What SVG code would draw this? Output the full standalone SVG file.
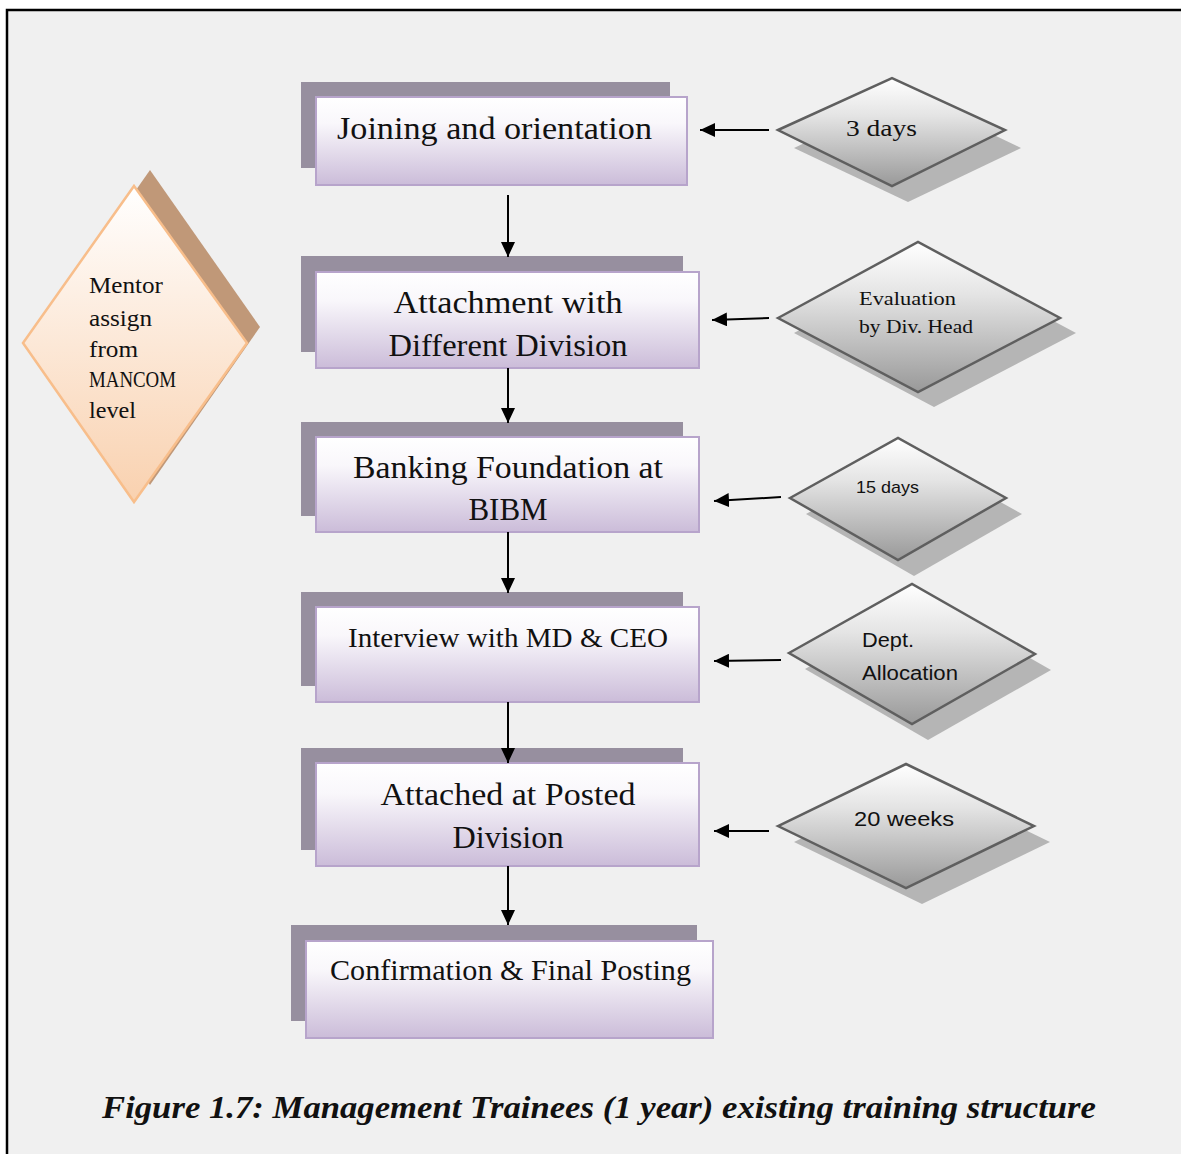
<svg xmlns="http://www.w3.org/2000/svg" width="1181" height="1154" viewBox="0 0 1181 1154">
  <defs>
    <linearGradient id="boxFill" x1="0" y1="0" x2="0" y2="1">
      <stop offset="0" stop-color="#ffffff"/>
      <stop offset="0.3" stop-color="#f9f7fb"/>
      <stop offset="1" stop-color="#cbbcd9"/>
    </linearGradient>
    <linearGradient id="greyFill" x1="0" y1="0" x2="0" y2="1">
      <stop offset="0" stop-color="#ffffff"/>
      <stop offset="0.35" stop-color="#e4e4e4"/>
      <stop offset="1" stop-color="#999999"/>
    </linearGradient>
    <linearGradient id="peachFill" x1="0" y1="0" x2="0" y2="1">
      <stop offset="0" stop-color="#ffffff"/>
      <stop offset="1" stop-color="#f9d1af"/>
    </linearGradient>
    <marker id="ah" markerWidth="15" markerHeight="14" refX="15" refY="7" orient="auto" markerUnits="userSpaceOnUse">
      <path d="M0,0 L15,7 L0,14 z" fill="#000"/>
    </marker>
    <clipPath id="mentorClip">
      <rect x="0" y="0" width="300" height="418"/>
    </clipPath>
  </defs>
  <style>
    .shadow { fill: #978f9f; }
    .box { fill: url(#boxFill); stroke: #b7a4cb; stroke-width: 2; }
    .dshadow { fill: #b5b5b5; }
    .diamond { fill: url(#greyFill); stroke: #5f5f5f; stroke-width: 2.5; stroke-linejoin: miter; }
    .serif { font-family: "Liberation Serif", "DejaVu Serif", serif; fill: #111; }
    .sans { font-family: "Liberation Sans", "Open Sans", sans-serif; fill: #111; }
    .conn line { stroke: #000; stroke-width: 2; marker-end: url(#ah); }
  </style>

  <!-- page frame -->
  <rect x="0" y="0" width="1181" height="1154" fill="#ffffff"/>
  <rect x="7" y="10" width="1180" height="1150" fill="#f0f0f0" stroke="#000" stroke-width="2.5"/>

  <!-- mentor side note -->
  <g id="mentor">
    <polygon points="150,170 260,327 150,485 40,327" fill="#c09878"/>
    <polygon points="134,186 247,343 134,502 23,343" fill="url(#peachFill)" stroke="#f8be8b" stroke-width="2.5"/>
    <g class="serif" font-size="22.5" clip-path="url(#mentorClip)">
      <text x="89" y="293" textLength="74" lengthAdjust="spacingAndGlyphs">Mentor</text>
      <text x="89" y="326" textLength="63" lengthAdjust="spacingAndGlyphs">assign</text>
      <text x="89" y="357" textLength="49" lengthAdjust="spacingAndGlyphs">from</text>
      <text x="89" y="387" textLength="87" lengthAdjust="spacingAndGlyphs">MANCOM</text>
      <text x="89" y="418" textLength="47" lengthAdjust="spacingAndGlyphs">level</text>
    </g>
  </g>

  <!-- process steps -->
  <g id="step1">
    <rect class="shadow" x="301" y="82" width="369" height="86"/>
    <rect class="box" x="316" y="97" width="371" height="88"/>
    <text class="serif" x="337" y="139" font-size="32" textLength="315" lengthAdjust="spacingAndGlyphs">Joining and orientation</text>
  </g>
  <g id="step2">
    <rect class="shadow" x="301" y="256" width="382" height="96"/>
    <rect class="box" x="316" y="272" width="383" height="96"/>
    <text class="serif" x="508" y="313" font-size="31" text-anchor="middle" textLength="229" lengthAdjust="spacingAndGlyphs">Attachment with</text>
    <text class="serif" x="508" y="356" font-size="31" text-anchor="middle" textLength="239" lengthAdjust="spacingAndGlyphs">Different Division</text>
  </g>
  <g id="step3">
    <rect class="shadow" x="301" y="422" width="382" height="94"/>
    <rect class="box" x="316" y="437" width="383" height="95"/>
    <text class="serif" x="508" y="478" font-size="31" text-anchor="middle" textLength="310" lengthAdjust="spacingAndGlyphs">Banking Foundation at</text>
    <text class="serif" x="508" y="520" font-size="31" text-anchor="middle">BIBM</text>
  </g>
  <g id="step4">
    <rect class="shadow" x="301" y="592" width="382" height="94"/>
    <rect class="box" x="316" y="607" width="383" height="95"/>
    <text class="serif" x="348" y="647" font-size="28" textLength="320" lengthAdjust="spacingAndGlyphs">Interview with MD &amp; CEO</text>
  </g>
  <g id="step5">
    <rect class="shadow" x="301" y="748" width="382" height="102"/>
    <rect class="box" x="316" y="763" width="383" height="103"/>
    <text class="serif" x="508" y="805" font-size="31" text-anchor="middle" textLength="255" lengthAdjust="spacingAndGlyphs">Attached at Posted</text>
    <text class="serif" x="508" y="848" font-size="31" text-anchor="middle" textLength="111" lengthAdjust="spacingAndGlyphs">Division</text>
  </g>
  <g id="step6">
    <rect class="shadow" x="291" y="925" width="406" height="96"/>
    <rect class="box" x="306" y="941" width="407" height="97"/>
    <text class="serif" x="330" y="980" font-size="29" textLength="361" lengthAdjust="spacingAndGlyphs">Confirmation &amp; Final Posting</text>
  </g>

  <!-- durations and checkpoints -->
  <g id="note1">
    <polygon class="dshadow" points="794,148 908,94 1021,148 908,202"/>
    <polygon class="diamond" points="778,130 892,78 1005,130 892,186"/>
    <text class="serif" x="846" y="136" font-size="24" textLength="71" lengthAdjust="spacingAndGlyphs">3 days</text>
  </g>
  <g id="note2">
    <polygon class="dshadow" points="794,333 934,257 1076,333 934,407"/>
    <polygon class="diamond" points="778,318 918,242 1060,318 918,392"/>
    <text class="serif" x="859" y="305" font-size="19" textLength="97" lengthAdjust="spacingAndGlyphs">Evaluation</text>
    <text class="serif" x="859" y="333" font-size="19" textLength="114" lengthAdjust="spacingAndGlyphs">by Div. Head</text>
  </g>
  <g id="note3">
    <polygon class="dshadow" points="806,514 914,454 1022,514 914,576"/>
    <polygon class="diamond" points="790,498 898,438 1006,498 898,560"/>
    <text class="sans" x="856" y="493" font-size="17" textLength="63" lengthAdjust="spacingAndGlyphs">15 days</text>
  </g>
  <g id="note4">
    <polygon class="dshadow" points="805,669 928,600 1051,670 928,740"/>
    <polygon class="diamond" points="789,653 912,584 1035,654 912,724"/>
    <text class="sans" x="862" y="647" font-size="20" textLength="52" lengthAdjust="spacingAndGlyphs">Dept.</text>
    <text class="sans" x="862" y="680" font-size="20" textLength="96" lengthAdjust="spacingAndGlyphs">Allocation</text>
  </g>
  <g id="note5">
    <polygon class="dshadow" points="794,842 922,780 1050,842 922,904"/>
    <polygon class="diamond" points="778,826 906,764 1034,826 906,888"/>
    <text class="sans" x="854" y="826" font-size="21" textLength="100" lengthAdjust="spacingAndGlyphs">20 weeks</text>
  </g>

  <!-- connectors -->
  <g id="connectors" class="conn">
    <line x1="508" y1="195" x2="508" y2="257"/>
    <line x1="508" y1="368" x2="508" y2="423"/>
    <line x1="508" y1="532" x2="508" y2="593"/>
    <line x1="508" y1="702" x2="508" y2="763"/>
    <line x1="508" y1="866" x2="508" y2="925"/>
    <line x1="769" y1="130" x2="700" y2="130"/>
    <line x1="769" y1="318" x2="712" y2="320"/>
    <line x1="781" y1="497" x2="714" y2="501"/>
    <line x1="781" y1="660" x2="714" y2="661"/>
    <line x1="769" y1="831" x2="714" y2="831"/>
  </g>

  <!-- caption -->
  <text class="serif" x="102" y="1118" font-size="31" font-weight="bold" font-style="italic" textLength="994" lengthAdjust="spacingAndGlyphs">Figure 1.7: Management Trainees (1 year) existing training structure</text>
</svg>
